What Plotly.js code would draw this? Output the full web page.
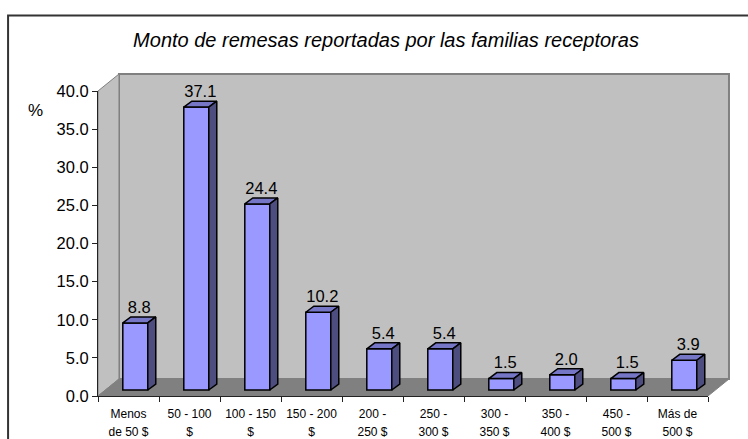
<!DOCTYPE html>
<html><head><meta charset="utf-8">
<script src="https://cdn.plot.ly/plotly-3.0.1.min.js"></script>
<style>html,body{margin:0;padding:0;background:#fff}#c{width:748px;height:439px}</style>
</head><body><div id="c"></div>
<script>
const categories = ["Menos<br>de 50 $","50 - 100<br>$","100 - 150<br>$","150 - 200<br>$","200 -<br>250 $","250 -<br>300 $","300 -<br>350 $","350 -<br>400 $","450 -<br>500 $","Más de<br>500 $"];
const values = [8.8,37.1,24.4,10.2,5.4,5.4,1.5,2.0,1.5,3.9];
const yTicks = [0,5,10,15,20,25,30,35,40];
const font = '"Liberation Sans", Arial, sans-serif';

// pseudo-3D geometry in axis units
const L=98,R=39.5,T=90.5,B=43, W=748-L-R, H=439-T-B;
const ux=10/W, uy=40/H;
const barW=25*ux, shiftX=6.8*ux, baseY=6*uy, depX=8*ux, depY=6*uy;
const wallX=21*ux, wallY=17*uy;

const centers = values.map((v,i)=>i+0.5+shiftX);
const edges = categories.map((c,i)=>i).concat([categories.length]);
const labelPos = categories.map((c,i)=>i+0.5);

const topX=[],topY=[],sideX=[],sideY=[];
values.forEach((v,i)=>{
  const l=centers[i]-barW/2,r=centers[i]+barW/2,t=v+baseY,b=baseY;
  topX.push(l,l+depX,r+depX,r,l,null);
  topY.push(t,t+depY,t+depY,t,t,null);
  sideX.push(r,r+depX,r+depX,r,r,null);
  sideY.push(t,t+depY,b+depY,b,t,null);
});

const px=x=>x/10, py=y=>y/40;
const poly=pts=>'M'+pts.map(p=>px(p[0])+','+py(p[1])).join(' L')+' Z';
const wallStyle={type:'path',xref:'paper',yref:'paper',layer:'below'};
const grey='#808080', wall='#C0C0C0';
const shapes=[
 {...wallStyle,path:poly([[wallX,wallY],[10+wallX,wallY],[10+wallX,40+wallY],[wallX,40+wallY]]),fillcolor:wall,line:{color:grey,width:2}},
 {...wallStyle,path:poly([[0,0],[wallX,wallY],[wallX,40+wallY],[0,40]]),fillcolor:wall,line:{color:grey,width:1}},
 {...wallStyle,path:poly([[0,0],[10,0],[10+wallX,wallY],[wallX,wallY]]),fillcolor:grey,line:{color:grey,width:1}},
 {type:'rect',xref:'paper',yref:'paper',layer:'below',x0:(8-L)/W,x1:(800-L)/W,y0:-0.3,y1:(439-15-B)/H,line:{color:'#333333',width:2},fillcolor:'rgba(0,0,0,0)'}
];

const traces=[
 {type:'bar',x:centers,y:values,base:baseY,width:barW,marker:{color:'#9999FF',line:{color:'#000',width:1.5}},hoverinfo:'skip',xaxis:'x',yaxis:'y'},
 {type:'scatter',mode:'lines',x:topX,y:topY,fill:'toself',fillcolor:'#7676C6',line:{color:'#000',width:1.5},hoverinfo:'skip',cliponaxis:false},
 {type:'scatter',mode:'lines',x:sideX,y:sideY,fill:'toself',fillcolor:'#4D4D80',line:{color:'#000',width:1.5},hoverinfo:'skip',cliponaxis:false},
 {type:'scatter',mode:'text',x:centers.map(c=>c+depX/2),y:values.map(v=>v+baseY+depY),text:values.map(v=>v.toFixed(1)),textposition:'top center',textfont:{family:font,size:16.5,color:'#000'},hoverinfo:'skip',cliponaxis:false},
 {type:'scatter',mode:'markers',x:labelPos,y:values.map(()=>0),marker:{opacity:0},hoverinfo:'skip',xaxis:'x2',yaxis:'y'}
];

const layout={
 width:748,height:439,showlegend:false,paper_bgcolor:'#fff',plot_bgcolor:'rgba(0,0,0,0)',barmode:'overlay',
 margin:{l:L,r:R,t:T,b:B,pad:0},
 title:{text:'Monto de remesas reportadas por las familias receptoras',font:{family:font,size:20,color:'#000',style:'italic'},x:386/748,xanchor:'center',xref:'container',y:1-40/439,yanchor:'middle',yref:'container'},
 xaxis:{type:'linear',range:[0,10],tickmode:'array',tickvals:edges,ticktext:edges.map(()=>''),ticks:'outside',ticklen:5,tickcolor:'#222',showline:true,linecolor:'#222',linewidth:1,showgrid:false,zeroline:false},
 xaxis2:{type:'linear',overlaying:'x',anchor:'y',side:'bottom',range:[0,10],tickmode:'array',tickvals:labelPos,ticktext:categories.map(c=>'<span style="font-size:12px">'+c.replace('<br>','</span><br><span style="font-size:12px">')+'</span>'),ticks:'',showline:false,showgrid:false,zeroline:false,tickangle:0,tickfont:{family:font,size:14,color:'#000'},ticklabelstandoff:7},
 yaxis:{range:[0,40],tickmode:'array',tickvals:yTicks,ticktext:yTicks.map(v=>v.toFixed(1)),ticks:'outside',ticklen:5,tickcolor:'#222',showline:true,linecolor:'#222',linewidth:1,showgrid:false,zeroline:false,tickfont:{family:font,size:16.5,color:'#000'}},
 shapes:shapes,
 annotations:[{text:'%',xref:'paper',yref:'paper',x:(35-L)/W,y:(396-110)/H,showarrow:false,font:{family:font,size:17,color:'#000'},xanchor:'center',yanchor:'middle'}]
};
Plotly.newPlot('c',traces,layout,{displayModeBar:false,staticPlot:true});
</script></body></html>
